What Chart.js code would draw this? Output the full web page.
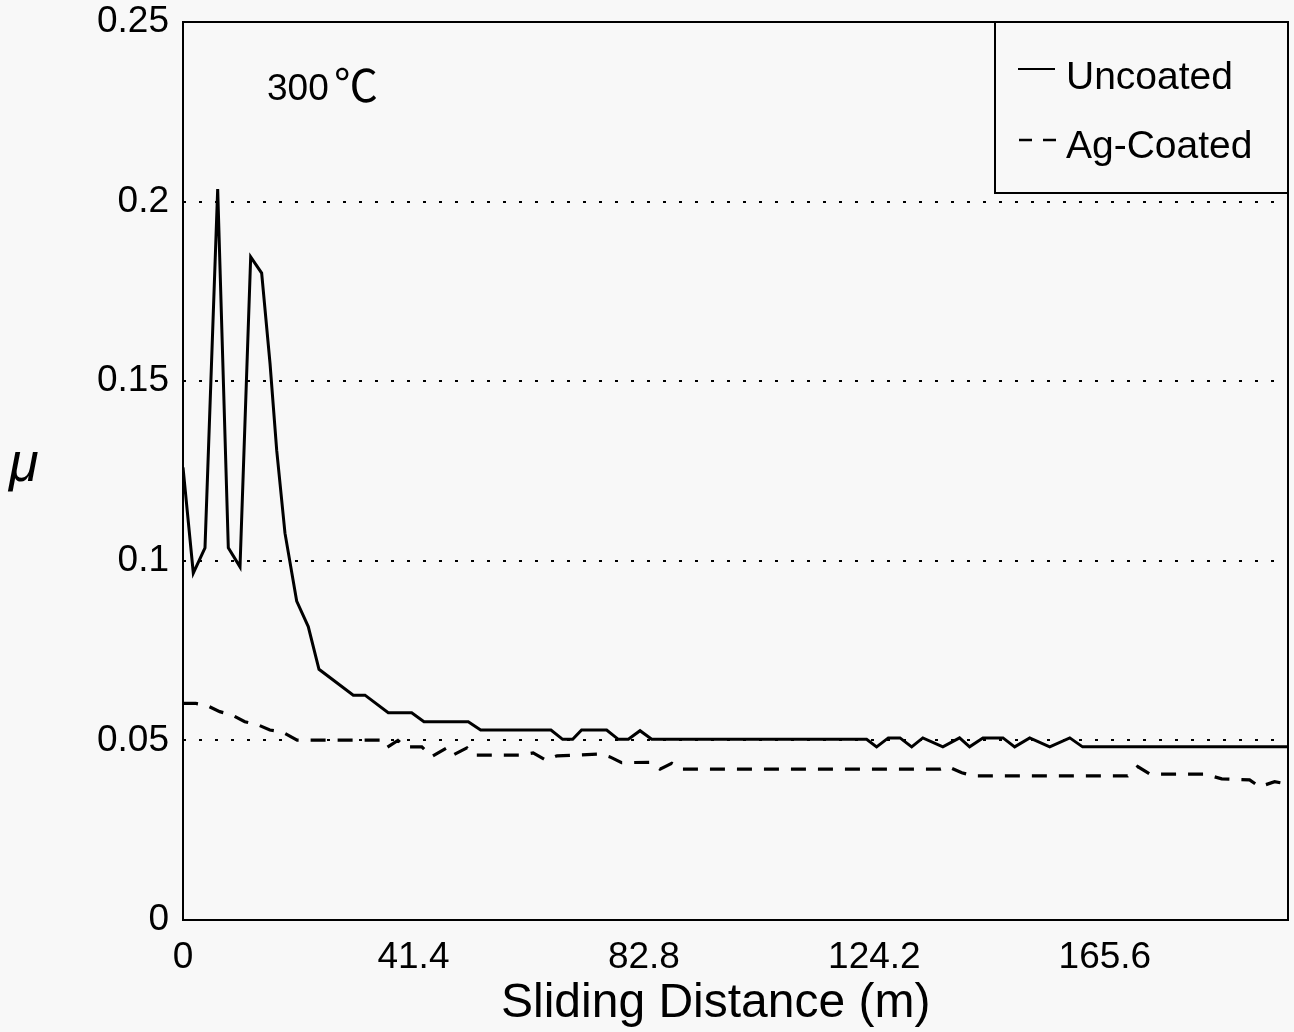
<!DOCTYPE html>
<html lang="en">
<head>
    <meta charset="UTF-8">
    <title>Friction coefficient vs sliding distance, 300 ℃</title>
    <style>
        html, body { margin: 0; padding: 0; background: #f8f8f8; }
        #wrap { width: 1294px; height: 1032px; }
    </style>
</head>
<body>
    <div id="wrap">
        <canvas id="myChart" width="1294" height="1032"></canvas>
    </div>
    <script src="https://cdn.jsdelivr.net/npm/chart.js"></script>
    <script>
        // values
        const uncoatedX = [0, 1.85, 3.95, 6.23, 8.14, 10.24, 12.16, 14.13, 15.63, 16.83, 18.32, 20.42, 22.5, 24.43, 30.59,
            32.69, 36.87, 41.08, 43.29, 51.24, 53.47, 66.1, 68.2, 70.0, 71.6, 76.1, 78.2, 80.0, 82.1, 84.2,
            122.8, 124.6, 126.7, 128.8, 130.9, 132.9, 136.5, 139.5, 141.3, 143.7, 147.3, 149.4, 152.1, 155.7, 159.3,
            161.6, 198.5];
        const uncoatedY = [0.126, 0.0966, 0.1036, 0.2035, 0.1036, 0.0983, 0.1846, 0.1801, 0.155, 0.1308, 0.1077, 0.0888, 0.0817, 0.0698, 0.0626,
            0.0626, 0.0577, 0.0577, 0.0552, 0.0552, 0.0529, 0.0529, 0.0503, 0.0503, 0.0529, 0.0529, 0.0503, 0.0503, 0.0527, 0.0503,
            0.0503, 0.0482, 0.0507, 0.0507, 0.0482, 0.0507, 0.0482, 0.0507, 0.0482, 0.0507, 0.0507, 0.0482, 0.0507, 0.0482, 0.0507,
            0.0482, 0.0482];

        const coatedX = [0, 2.3, 4.3, 6.6, 8.8, 11.1, 13.5, 15.6, 17.8, 20.5, 35.4, 36.5, 38.6, 39.9, 42.9,
            44.7, 47.4, 48.5, 51.0, 52.3, 60.5, 62.9, 65.2, 67.2, 74.9, 76.7, 78.8, 83.9, 85.7, 87.8,
            89.3, 136.0, 137.4, 139.9, 142.2, 169.7, 171.5, 173.7, 183.6, 186.6, 191.6, 193.4, 196.1, 198.5];
        const coatedY = [0.0603, 0.0603, 0.0597, 0.0580, 0.0571, 0.0552, 0.0543, 0.0529, 0.0524, 0.0501, 0.0501, 0.0479, 0.0500, 0.0482, 0.0482,
            0.0455, 0.0479, 0.0459, 0.0479, 0.0459, 0.0459, 0.0465, 0.0445, 0.0457, 0.0462, 0.0454, 0.0438, 0.0439, 0.0420, 0.0436,
            0.0420, 0.0420, 0.0427, 0.0410, 0.0401, 0.0401, 0.0427, 0.0406, 0.0406, 0.0393, 0.0390, 0.0371, 0.0385, 0.0378];

        const xTickValues = [0, 41.4, 82.8, 124.2, 165.6];
        const xTickLabels = ['0', '41.4', '82.8', '124.2', '165.6'];
        const yTickValues = [0, 0.05, 0.1, 0.15, 0.2, 0.25];
        const yTickLabels = ['0', '0.05', '0.1', '0.15', '0.2', '0.25'];
        const xMax = 198.5;

        const FONT = '"Liberation Sans", Arial, Helvetica, sans-serif';

        const toPoints = (xs, ys) => xs.map((x, i) => ({ x: x, y: ys[i] }));

        // frame, legend box and the free texts
        const decorPlugin = {
            id: 'decorPlugin',
            afterDraw: (chart) => {
                const ctx = chart.ctx;
                const a = chart.chartArea;
                ctx.save();
                ctx.strokeStyle = '#000';
                ctx.lineWidth = 2;
                ctx.strokeRect(a.left, a.top, a.right - a.left, a.bottom - a.top);

                // legend box
                const lx = 995, ly = a.top, lw = a.right - 995, lh = 171;
                ctx.strokeRect(lx, ly, lw, lh);
                const ds = chart.data.datasets;
                ctx.fillStyle = '#000';
                ctx.font = '39px ' + FONT;
                ctx.textBaseline = 'alphabetic';
                ctx.textAlign = 'left';
                // uncoated sample
                ctx.lineWidth = 2;
                ctx.setLineDash([]);
                ctx.beginPath();
                ctx.moveTo(1018, 69);
                ctx.lineTo(1055, 69);
                ctx.stroke();
                ctx.fillText(ds[0].label, 1066, 89);
                // coated sample
                ctx.lineWidth = 2.5;
                ctx.setLineDash([13, 11]);
                ctx.beginPath();
                ctx.moveTo(1019, 140);
                ctx.lineTo(1056, 140);
                ctx.stroke();
                ctx.setLineDash([]);
                ctx.fillText(ds[1].label, 1066, 158);

                // temperature label
                ctx.font = '37px ' + FONT;
                ctx.fillText('300', 267, 100);
                ctx.font = '44px "Noto Sans CJK JP", "DejaVu Sans", sans-serif';
                ctx.fillText('℃', 334, 102);

                // y label
                ctx.font = 'italic 54px ' + FONT;
                ctx.fillText('μ', 9, 481);

                // x title
                ctx.font = '48px ' + FONT;
                ctx.fillText('Sliding Distance (m)', 501, 1017);
                ctx.restore();
            }
        };

        const ctx = document.getElementById('myChart').getContext('2d');
        const chartInstance = new Chart(ctx, {
            type: 'line',
            data: {
                datasets: [
                    {
                        label: 'Uncoated',
                        data: toPoints(uncoatedX, uncoatedY),
                        borderColor: '#000',
                        borderWidth: 3,
                        pointRadius: 0,
                        fill: false,
                        tension: 0
                    },
                    {
                        label: 'Ag-Coated',
                        data: toPoints(coatedX, coatedY),
                        borderColor: '#000',
                        borderWidth: 3.2,
                        borderDash: [15, 12],
                        pointRadius: 0,
                        fill: false,
                        tension: 0
                    }
                ]
            },
            options: {
                responsive: false,
                animation: false,
                layout: { padding: { top: 22, right: 6, left: 0, bottom: 0 } },
                plugins: {
                    legend: { display: false },
                    tooltip: { enabled: false }
                },
                scales: {
                    x: {
                        type: 'linear',
                        min: 0,
                        max: xMax,
                        afterFit: (s) => { s.height = 112; s.paddingLeft = 0; s.paddingRight = 0; },
                        afterBuildTicks: (s) => { s.ticks = xTickValues.map(v => ({ value: v })); },
                        ticks: {
                            callback: (v, i) => xTickLabels[i],
                            color: '#000',
                            font: { family: FONT, size: 37 },
                            padding: 16,
                            maxRotation: 0,
                            autoSkip: false
                        },
                        grid: { display: false, drawTicks: false },
                        border: { display: false }
                    },
                    y: {
                        min: 0,
                        max: 0.25,
                        afterFit: (s) => { s.width = 183; s.paddingTop = 0; s.paddingBottom = 0; },
                        afterBuildTicks: (s) => { s.ticks = yTickValues.map(v => ({ value: v })); },
                        ticks: {
                            callback: (v, i) => yTickLabels[i],
                            color: '#000',
                            font: { family: FONT, size: 37 },
                            padding: 14
                        },
                        grid: {
                            color: (c) => (c.tick && c.tick.value > 0.001 && c.tick.value < 0.249) ? '#000' : 'rgba(0,0,0,0)',
                            lineWidth: 2,
                            drawTicks: false
                        },
                        border: { display: false, dash: [3, 13] }
                    }
                }
            },
            plugins: [decorPlugin]
        });
    </script>
</body>
</html>
